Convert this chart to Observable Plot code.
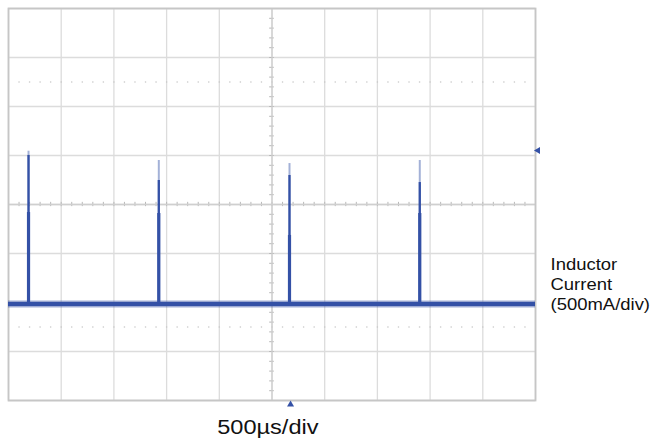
<!DOCTYPE html>
<html><head><meta charset="utf-8">
<script src="https://cdn.jsdelivr.net/npm/d3@7"></script>
<script src="https://cdn.jsdelivr.net/npm/@observablehq/plot@0.6"></script>
<style>body{margin:0;background:#fff;} svg{display:block;background:#fff}</style>
</head><body><div id="chart"></div>
<script>
// Axis: time in µs (500 µs/div, 10 div), current in mA relative to screen centre (500 mA/div, 8 div)
const xTicks = [0, 500, 1000, 1500, 2000, 2500, 3000, 3500, 4000, 4500, 5000];
const yTicks = [-2000, -1500, -1000, -500, 0, 500, 1000, 1500, 2000];
const minorX = d3.range(100, 5000, 100);
const minorY = d3.range(-1900, 2000, 100);
const dottedLevels = [1250, -1250];

// Trace values
const baselineCurrent = -1015;
const spikeTime = [190, 1426, 2666, 3902];
const spikePeak = [544, 449, 418, 449];
const spikeMid  = [500, 245, 296, 224];
const spikeLow  = [-82, -92, -316, -92];
const triggerTime = 2676;
const triggerLevel = 550;

const xLabel = "500µs/div";
const yLabel = "Inductor\nCurrent\n(500mA/div)";

const traceColor = "#3451a6";
const spikes = spikeTime.map((t, i) => ({t, peak: spikePeak[i], mid: spikeMid[i], low: spikeLow[i]}));
const dots = dottedLevels.flatMap(y => minorX.map(x => ({x, y})));

const chart = Plot.plot({
  width: 652, height: 441,
  marginLeft: 8, marginRight: 117, marginTop: 8, marginBottom: 41,
  x: {domain: [0, 5000], axis: null},
  y: {domain: [-2000, 2000], axis: null},
  style: {fontFamily: "'Liberation Sans', Arial, sans-serif", background: "#fff"},
  marks: [
    Plot.ruleX(xTicks, {stroke: "#dcdcdc", strokeWidth: 1.3}),
    Plot.ruleY(yTicks, {stroke: "#dcdcdc", strokeWidth: 1.3}),
    Plot.dot(dots, {x: "x", y: "y", r: 0.8, fill: "#c8c8c8", stroke: null}),
    Plot.ruleX(minorX, {x: d => d, y1: -22, y2: 22, stroke: "#b8b8b8", strokeWidth: 1}),
    Plot.ruleY(minorY, {y: d => d, x1: 2478, x2: 2522, stroke: "#b8b8b8", strokeWidth: 1}),
    Plot.ruleX([2500], {stroke: "#cfcfcf", strokeWidth: 1.3}),
    Plot.ruleY([0], {stroke: "#cfcfcf", strokeWidth: 1.3}),
    Plot.frame({stroke: "#c6c6c6", strokeWidth: 1.8}),
    // baseline noise band
    Plot.ruleY([baselineCurrent], {stroke: traceColor, strokeWidth: 7.5, strokeOpacity: 0.3}),
    Plot.ruleY([baselineCurrent], {stroke: traceColor, strokeWidth: 4.5}),
    // spikes
    Plot.ruleX(spikes, {x: "t", y1: baselineCurrent, y2: "peak", stroke: traceColor, strokeWidth: 2, strokeOpacity: 0.45}),
    Plot.ruleX(spikes, {x: "t", y1: baselineCurrent, y2: "mid", stroke: traceColor, strokeWidth: 2.3}),
    Plot.ruleX(spikes, {x: "t", y1: baselineCurrent, y2: "low", stroke: traceColor, strokeWidth: 3.2}),
    // trigger markers
    Plot.dot([triggerTime], {x: d => d, frameAnchor: "bottom", dy: 4, symbol: "triangle", r: 2.6, fill: traceColor, stroke: null}),
    Plot.dot([triggerLevel], {y: d => d, frameAnchor: "right", dx: 2.5, symbol: "triangle", rotate: -90, r: 2.6, fill: traceColor, stroke: null}),
    // labels
    Plot.text([xLabel], {text: d => d, frameAnchor: "bottom", textAnchor: "start", lineAnchor: "top", dx: -54.8, dy: 19, fontSize: 20.5, fill: "#111"}),
    Plot.text([yLabel], {text: d => d, frameAnchor: "right", textAnchor: "start", lineAnchor: "top", dx: 15, dy: 51, fontSize: 16.5, lineHeight: 1.21, fill: "#111"})
  ]
});
document.getElementById("chart").appendChild(chart);
// the reference lettering is horizontally stretched
d3.select(chart).selectAll("text").each(function() {
  const t = this.textContent;
  const s = t.startsWith("500µs") ? 1.15 : 1.12;
  const tr = this.getAttribute("transform") || "";
  this.setAttribute("transform", tr + ` scale(${s},1)`);
});
</script>
</body></html>
